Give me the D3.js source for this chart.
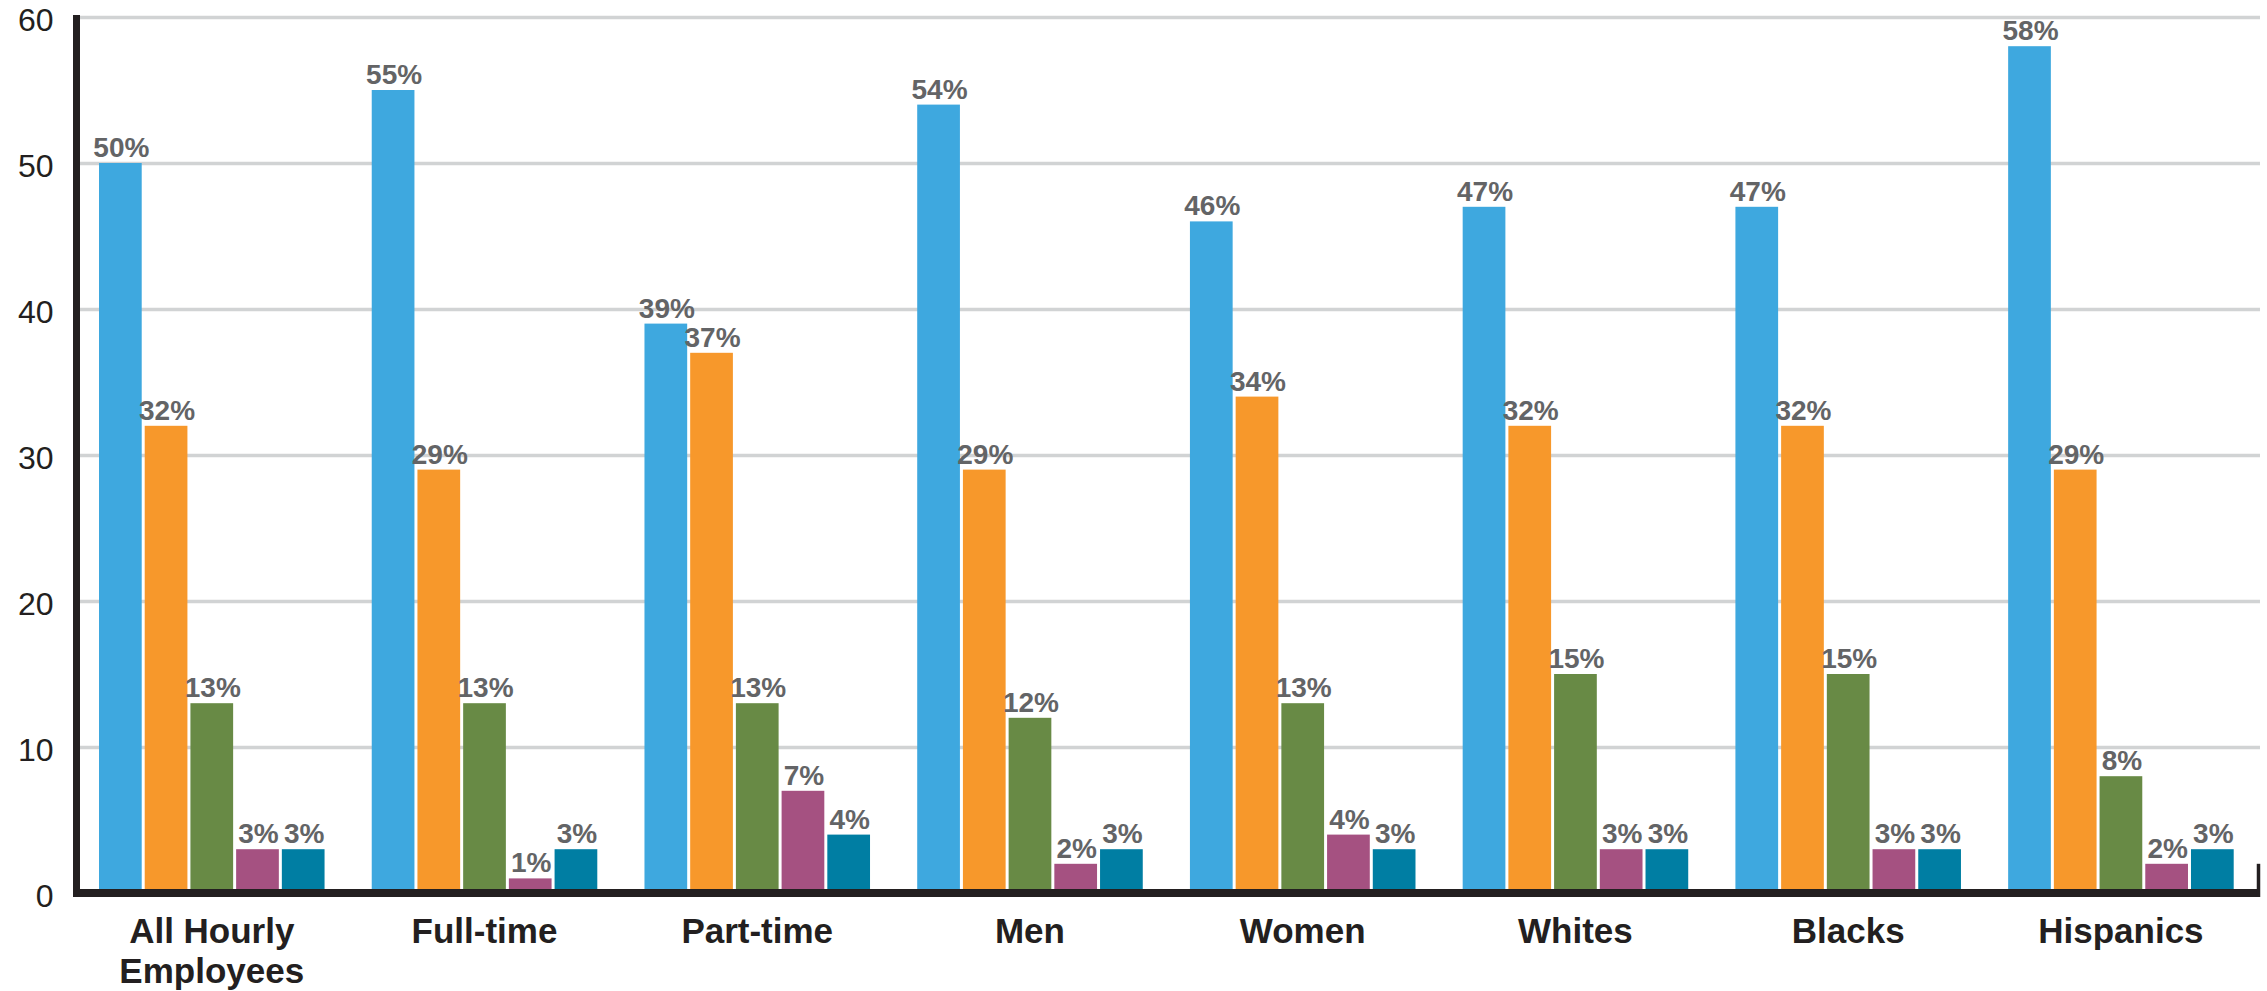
<!DOCTYPE html>
<html>
<head>
<meta charset="utf-8">
<script src="https://cdn.jsdelivr.net/npm/d3@7/dist/d3.min.js"></script>
<style>
  html, body { margin: 0; padding: 0; background: #ffffff; }
  svg { display: block; }
</style>
</head>
<body>
<svg id="chart" width="2267" height="991"></svg>
<script>
// Groups along the x axis
const categories = ["All Hourly Employees", "Full-time", "Part-time", "Men", "Women", "Whites", "Blacks", "Hispanics"];

// Five series, one value (percent) per group
const series1 = [50, 55, 39, 54, 46, 47, 47, 58];
const series2 = [32, 29, 37, 29, 34, 32, 32, 29];
const series3 = [13, 13, 13, 12, 13, 15, 15, 8];
const series4 = [3, 1, 7, 2, 4, 3, 3, 2];
const series5 = [3, 3, 4, 3, 3, 3, 3, 3];

const seriesKeys = ["series1", "series2", "series3", "series4", "series5"];
const seriesValues = [series1, series2, series3, series4, series5];
const seriesColors = ["#3ea8df", "#f7982b", "#688a45", "#a55181", "#007ea3"];

// Y axis tick labels
const yTicks = [0, 10, 20, 30, 40, 50, 60];

const rows = categories.map((c, i) => {
  const r = { category: c };
  seriesKeys.forEach((k, j) => { r[k] = seriesValues[j][i]; });
  return r;
});

const svg = d3.select("#chart");

const plotLeft = 80, plotRight = 2260;
const y = d3.scaleLinear().domain([0, 60]).range([893, 17]);

const x0 = d3.scaleBand()
  .domain(categories)
  .range([99, 2236.7])
  .paddingInner(0.162)
  .paddingOuter(0);

const x1 = d3.scaleBand()
  .domain(seriesKeys)
  .range([0, x0.bandwidth()])
  .padding(0);

const color = d3.scaleOrdinal().domain(seriesKeys).range(seriesColors);
const gap = 3;

// Horizontal gridlines
const grid = svg.append("g")
  .attr("transform", `translate(${plotLeft},0)`)
  .call(d3.axisLeft(y).tickValues(yTicks.filter(t => t > 0)).tickSize(-(plotRight - plotLeft)).tickFormat(""));
grid.select(".domain").remove();
grid.selectAll(".tick line").attr("stroke", "#d1d3d4").attr("stroke-width", 3.5);

// Y tick labels
const yAxis = svg.append("g")
  .attr("transform", "translate(76.5,0)")
  .call(d3.axisLeft(y).tickValues(yTicks).tickSize(0).tickPadding(23).tickFormat(d3.format("d")));
yAxis.select(".domain").remove();
yAxis.selectAll(".tick text")
  .attr("fill", "#231f20")
  .attr("font-family", "'Liberation Sans', Arial, sans-serif")
  .attr("font-size", 32)
  .attr("dy", "0.42em");

// Bars
const groups = svg.append("g")
  .selectAll("g")
  .data(rows)
  .join("g")
  .attr("transform", d => `translate(${x0(d.category)},0)`);

groups.selectAll("rect")
  .data(d => seriesKeys.map(k => ({ key: k, value: d[k] })))
  .join("rect")
  .attr("x", d => x1(d.key))
  .attr("y", d => y(d.value))
  .attr("width", x1.bandwidth() - gap)
  .attr("height", d => y(0) - y(d.value))
  .attr("fill", d => color(d.key));

// Value labels
groups.selectAll("text.value")
  .data(d => seriesKeys.map(k => ({ key: k, value: d[k] })))
  .join("text")
  .attr("class", "value")
  .attr("x", d => x1(d.key) + (x1.bandwidth() - gap) / 2 + 1)
  .attr("y", d => y(d.value) - 6)
  .attr("text-anchor", "middle")
  .attr("font-family", "'Liberation Sans', Arial, sans-serif")
  .attr("font-weight", "bold")
  .attr("font-size", 28)
  .attr("fill", "#636466")
  .text(d => d.value + "%");

// Axis lines
svg.append("line")
  .attr("x1", 76.5).attr("x2", 76.5)
  .attr("y1", y(60) - 2).attr("y2", y(0) + 4)
  .attr("stroke", "#231f20").attr("stroke-width", 7);

svg.append("line")
  .attr("x1", 73).attr("x2", plotRight)
  .attr("y1", y(0)).attr("y2", y(0))
  .attr("stroke", "#231f20").attr("stroke-width", 8);

svg.append("line")
  .attr("x1", plotRight - 1.5).attr("x2", plotRight - 1.5)
  .attr("y1", y(2)).attr("y2", y(0) + 4)
  .attr("stroke", "#231f20").attr("stroke-width", 3.5);

// Category labels (wrapped on the space for the long first label)
const catLabels = svg.append("g")
  .selectAll("text")
  .data(categories)
  .join("text")
  .attr("x", d => x0(d) + (x0.bandwidth() - gap) / 2)
  .attr("y", 943)
  .attr("text-anchor", "middle")
  .attr("font-family", "'Liberation Sans', Arial, sans-serif")
  .attr("font-weight", "bold")
  .attr("font-size", 35)
  .attr("fill", "#231f20");

catLabels.each(function(d) {
  const t = d3.select(this);
  const lines = d === "All Hourly Employees" ? ["All Hourly", "Employees"] : [d];
  lines.forEach((ln, i) => {
    t.append("tspan")
      .attr("x", t.attr("x"))
      .attr("dy", i === 0 ? 0 : 40)
      .text(ln);
  });
});
</script>
</body>
</html>
